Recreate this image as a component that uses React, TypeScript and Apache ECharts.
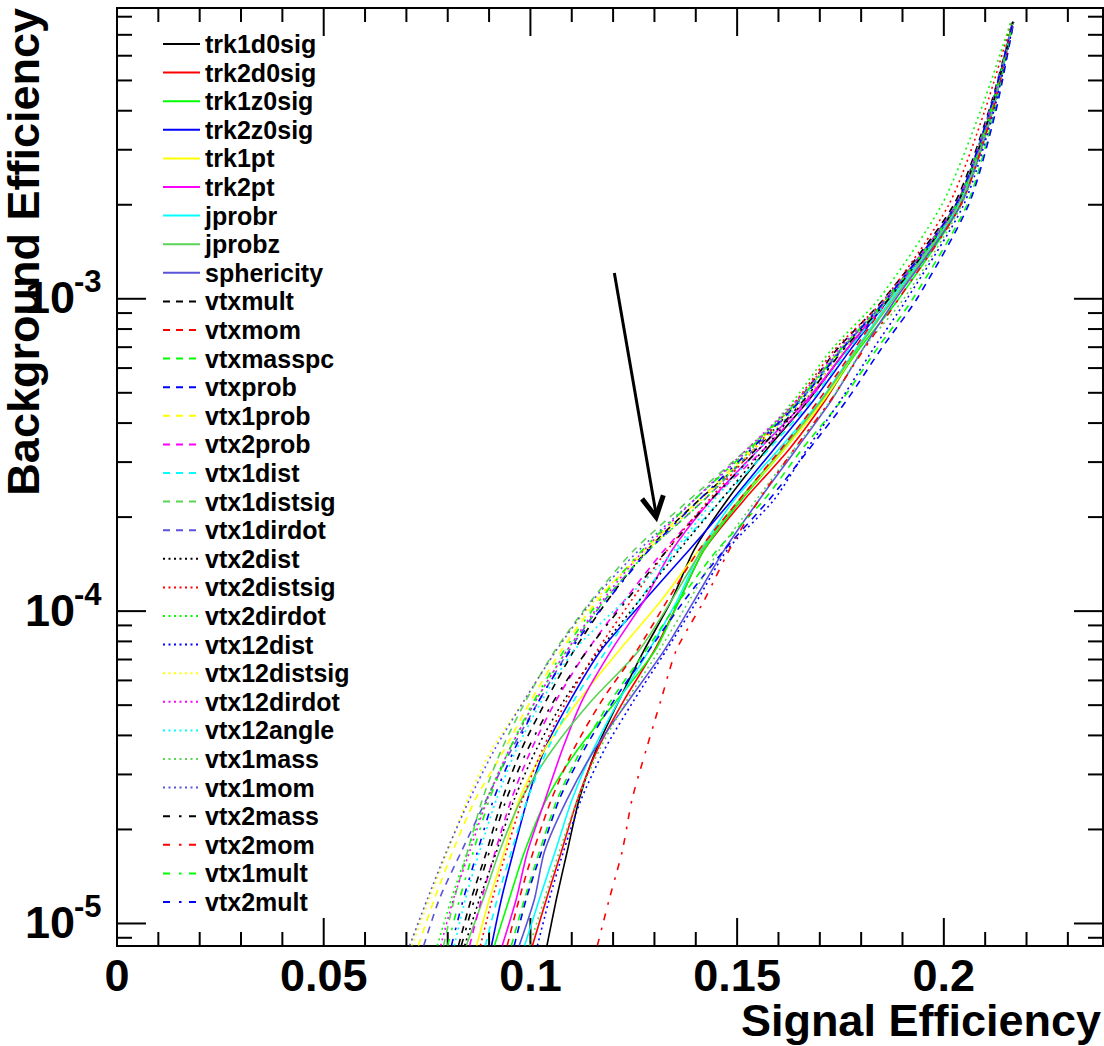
import React, { useEffect, useRef } from "react";
import * as echarts from "echarts";

// Background-efficiency levels shared by all curves (y values)
const BG_LEVELS = [8.5e-6, 1.2e-5, 1.7e-5, 2.5e-5, 3.6e-5, 5.2e-5, 7.5e-5, 1.08e-4, 1.57e-4, 2.27e-4, 3.3e-4, 4.75e-4, 6.9e-4, 1e-3, 2e-3, 4e-3, 7.7e-3];

// Signal efficiency of each curve at the levels above
const trk1d0sig = [0.104, 0.1063, 0.1089, 0.1118, 0.1159, 0.1215, 0.1275, 0.1341, 0.1396, 0.1476, 0.1572, 0.1674, 0.1766, 0.1867, 0.2031, 0.2114, 0.2167];
const trk2d0sig = [0.1005, 0.1039, 0.1075, 0.1114, 0.1162, 0.1227, 0.13, 0.136, 0.142, 0.1517, 0.1626, 0.1714, 0.179, 0.1874, 0.2036, 0.2116, 0.2167];
const trk1z0sig = [0.0913, 0.0949, 0.0986, 0.1039, 0.1114, 0.121, 0.1302, 0.136, 0.142, 0.151, 0.1614, 0.171, 0.1795, 0.1891, 0.2041, 0.2118, 0.2167];
const trk2z0sig = [0.0906, 0.093, 0.0959, 0.0993, 0.1034, 0.1097, 0.1171, 0.1275, 0.1384, 0.1488, 0.1589, 0.1686, 0.1775, 0.1867, 0.2031, 0.2114, 0.2167];
const trk1pt = [0.087, 0.0901, 0.0937, 0.0973, 0.1034, 0.1118, 0.1215, 0.1316, 0.1408, 0.1505, 0.1614, 0.171, 0.179, 0.1874, 0.2036, 0.2116, 0.2167];
const trk2pt = [0.0932, 0.0966, 0.0993, 0.1036, 0.1077, 0.1126, 0.1196, 0.1275, 0.1343, 0.1437, 0.1553, 0.1669, 0.1766, 0.1862, 0.2029, 0.2114, 0.2167];
const jprobr = [0.0986, 0.1022, 0.106, 0.1101, 0.1152, 0.1215, 0.1287, 0.1355, 0.1413, 0.1493, 0.1601, 0.1703, 0.1787, 0.1874, 0.2036, 0.2116, 0.2167];
const jprobz = [0.0845, 0.0886, 0.0925, 0.0978, 0.1053, 0.115, 0.1263, 0.1341, 0.1415, 0.1505, 0.1609, 0.1705, 0.179, 0.1879, 0.2039, 0.2116, 0.2167];
const sphericity = [0.0973, 0.101, 0.1034, 0.1089, 0.1155, 0.1239, 0.1324, 0.1396, 0.1469, 0.1553, 0.1643, 0.1729, 0.1804, 0.1884, 0.2041, 0.2118, 0.2167];
const vtxmult = [0.0826, 0.0857, 0.0894, 0.0932, 0.0978, 0.1039, 0.1106, 0.1186, 0.1283, 0.1408, 0.1546, 0.165, 0.1742, 0.1855, 0.2024, 0.2109, 0.2167];
const vtxmom = [0.0944, 0.0973, 0.1007, 0.1051, 0.1104, 0.1174, 0.1258, 0.1331, 0.1408, 0.1505, 0.1606, 0.1698, 0.1783, 0.1867, 0.2031, 0.2114, 0.2167];
const vtxmasspc = [0.0954, 0.0986, 0.1022, 0.1065, 0.1123, 0.1196, 0.128, 0.136, 0.1452, 0.1565, 0.1657, 0.1754, 0.1838, 0.1925, 0.2056, 0.2123, 0.2169];
const vtxprob = [0.0961, 0.099, 0.1027, 0.107, 0.113, 0.1203, 0.1287, 0.1372, 0.1469, 0.1577, 0.1674, 0.1766, 0.1848, 0.1935, 0.206, 0.2126, 0.2169];
const vtx1prob = [0.0729, 0.0768, 0.0812, 0.0867, 0.0937, 0.1002, 0.1075, 0.1162, 0.1275, 0.1408, 0.1534, 0.165, 0.1751, 0.1862, 0.2031, 0.2114, 0.2167];
const vtx2prob = [0.0853, 0.0882, 0.0915, 0.0954, 0.1002, 0.1063, 0.1138, 0.1227, 0.1324, 0.1437, 0.1565, 0.1674, 0.1766, 0.1867, 0.2031, 0.2114, 0.2167];
const vtx1dist = [0.0891, 0.092, 0.0954, 0.0993, 0.1041, 0.1106, 0.1184, 0.1263, 0.1355, 0.1461, 0.1577, 0.1681, 0.1771, 0.1867, 0.2031, 0.2114, 0.2167];
const vtx1distsig = [0.079, 0.0816, 0.0848, 0.0884, 0.093, 0.099, 0.106, 0.1147, 0.1251, 0.1384, 0.1524, 0.165, 0.1751, 0.1867, 0.2036, 0.2116, 0.2167];
const vtx1dirdot = [0.0742, 0.078, 0.0833, 0.0894, 0.0954, 0.1022, 0.1094, 0.1179, 0.1287, 0.142, 0.1541, 0.1655, 0.1754, 0.1862, 0.2031, 0.2114, 0.2167];
const vtx2dist = [0.0841, 0.0877, 0.0918, 0.0961, 0.1014, 0.1082, 0.1167, 0.1263, 0.136, 0.1461, 0.1565, 0.1664, 0.1758, 0.1862, 0.2029, 0.2111, 0.2167];
const vtx2distsig = [0.0879, 0.0908, 0.0942, 0.0981, 0.1029, 0.1089, 0.1162, 0.1244, 0.1331, 0.1432, 0.1541, 0.1645, 0.1737, 0.1857, 0.2012, 0.2099, 0.2164];
const vtx2dirdot = [0.0775, 0.0809, 0.0848, 0.0894, 0.0949, 0.1014, 0.1089, 0.1179, 0.1287, 0.142, 0.1534, 0.1638, 0.1729, 0.1843, 0.1995, 0.2089, 0.2162];
const vtx12dist = [0.1017, 0.1046, 0.108, 0.1123, 0.1179, 0.1251, 0.1329, 0.1403, 0.1476, 0.1589, 0.1669, 0.1751, 0.1829, 0.1911, 0.2048, 0.2121, 0.2169];
const vtx12distsig = [0.0713, 0.0756, 0.08, 0.0848, 0.0906, 0.0986, 0.1063, 0.1155, 0.1283, 0.1415, 0.1541, 0.1662, 0.1758, 0.1862, 0.2029, 0.2111, 0.2167];
const vtx12dirdot = [0.0783, 0.0814, 0.0853, 0.0896, 0.0949, 0.1014, 0.1089, 0.1174, 0.1275, 0.1396, 0.1524, 0.1645, 0.1746, 0.186, 0.2029, 0.2111, 0.2167];
const vtx12angle = [0.0816, 0.0843, 0.0877, 0.0918, 0.0966, 0.1029, 0.1106, 0.1227, 0.1348, 0.1444, 0.1553, 0.1657, 0.1754, 0.1862, 0.2029, 0.2111, 0.2167];
const vtx1mass = [0.0998, 0.1034, 0.107, 0.1114, 0.1167, 0.1234, 0.1312, 0.1384, 0.1457, 0.1546, 0.1638, 0.1727, 0.1804, 0.1903, 0.2043, 0.2118, 0.2167];
const vtx1mom = [0.0708, 0.0751, 0.0797, 0.0853, 0.0913, 0.0986, 0.1063, 0.115, 0.1263, 0.1396, 0.1529, 0.165, 0.1751, 0.186, 0.2029, 0.2111, 0.2167];
const vtx2mass = [0.0833, 0.0865, 0.0901, 0.0942, 0.0993, 0.1058, 0.1138, 0.1232, 0.1331, 0.1437, 0.1553, 0.1662, 0.1758, 0.1867, 0.2031, 0.2114, 0.2167];
const vtx2mom = [0.1162, 0.1191, 0.1222, 0.1246, 0.128, 0.1316, 0.1353, 0.142, 0.1481, 0.1553, 0.1638, 0.1727, 0.1807, 0.1891, 0.2041, 0.2118, 0.2167];
const vtx1mult = [0.08, 0.0829, 0.0862, 0.0901, 0.0949, 0.101, 0.1082, 0.1167, 0.1271, 0.1396, 0.1529, 0.165, 0.1751, 0.1862, 0.2031, 0.2114, 0.2167];
const vtx2mult = [0.0809, 0.0838, 0.0872, 0.0911, 0.0961, 0.1022, 0.1097, 0.1186, 0.1287, 0.1408, 0.1534, 0.1655, 0.1754, 0.1862, 0.2029, 0.2111, 0.2167];

// ROOT colour indices 1..9
const ROOT_COLORS = ["#000000", "#ff0000", "#00ff00", "#0000ff", "#ffff00", "#ff00ff", "#00ffff", "#59d454", "#5954d9"];

const CURVES = [
  { name: "trk1d0sig", c: 0, s: "solid", v: trk1d0sig },
  { name: "trk2d0sig", c: 1, s: "solid", v: trk2d0sig },
  { name: "trk1z0sig", c: 2, s: "solid", v: trk1z0sig },
  { name: "trk2z0sig", c: 3, s: "solid", v: trk2z0sig },
  { name: "trk1pt", c: 4, s: "solid", v: trk1pt },
  { name: "trk2pt", c: 5, s: "solid", v: trk2pt },
  { name: "jprobr", c: 6, s: "solid", v: jprobr },
  { name: "jprobz", c: 7, s: "solid", v: jprobz },
  { name: "sphericity", c: 8, s: "solid", v: sphericity },
  { name: "vtxmult", c: 0, s: "dashed", v: vtxmult },
  { name: "vtxmom", c: 1, s: "dashed", v: vtxmom },
  { name: "vtxmasspc", c: 2, s: "dashed", v: vtxmasspc },
  { name: "vtxprob", c: 3, s: "dashed", v: vtxprob },
  { name: "vtx1prob", c: 4, s: "dashed", v: vtx1prob },
  { name: "vtx2prob", c: 5, s: "dashed", v: vtx2prob },
  { name: "vtx1dist", c: 6, s: "dashed", v: vtx1dist },
  { name: "vtx1distsig", c: 7, s: "dashed", v: vtx1distsig },
  { name: "vtx1dirdot", c: 8, s: "dashed", v: vtx1dirdot },
  { name: "vtx2dist", c: 0, s: "dotted", v: vtx2dist },
  { name: "vtx2distsig", c: 1, s: "dotted", v: vtx2distsig },
  { name: "vtx2dirdot", c: 2, s: "dotted", v: vtx2dirdot },
  { name: "vtx12dist", c: 3, s: "dotted", v: vtx12dist },
  { name: "vtx12distsig", c: 4, s: "dotted", v: vtx12distsig },
  { name: "vtx12dirdot", c: 5, s: "dotted", v: vtx12dirdot },
  { name: "vtx12angle", c: 6, s: "dotted", v: vtx12angle },
  { name: "vtx1mass", c: 7, s: "dotted", v: vtx1mass },
  { name: "vtx1mom", c: 8, s: "dotted", v: vtx1mom },
  { name: "vtx2mass", c: 0, s: "dashdot", v: vtx2mass },
  { name: "vtx2mom", c: 1, s: "dashdot", v: vtx2mom },
  { name: "vtx1mult", c: 2, s: "dashdot", v: vtx1mult },
  { name: "vtx2mult", c: 3, s: "dashdot", v: vtx2mult },
];

// Axes
const X_MIN = 0;
const X_MAX = 0.2385;
const Y_MIN = 8.47e-6;
const Y_MAX = 8.53e-3;
const X_MAJOR = [0, 0.05, 0.1, 0.15, 0.2];
const X_LABELS = ["0", "0.05", "0.1", "0.15", "0.2"];
const X_MINOR = [0.01, 0.02, 0.03, 0.04, 0.06, 0.07, 0.08, 0.09, 0.11, 0.12, 0.13, 0.14, 0.16, 0.17, 0.18, 0.19, 0.21, 0.22, 0.23];
const Y_MAJOR = [1e-5, 1e-4, 1e-3];
const Y_EXPONENTS = ["-5", "-4", "-3"];
const Y_MINOR = [9e-6, 2e-5, 3e-5, 4e-5, 5e-5, 6e-5, 7e-5, 8e-5, 9e-5, 2e-4, 3e-4, 4e-4, 5e-4, 6e-4, 7e-4, 8e-4, 9e-4, 2e-3, 3e-3, 4e-3, 5e-3, 6e-3, 7e-3, 8e-3];

// Arrow annotation (data units)
const ARROW_FROM = [0.1203, 1.21e-3];
const ARROW_TO = [0.1304, 2.0e-4];

const DASHES: Record<string, any> = {
  solid: "solid",
  dashed: [7, 6],
  dotted: [2, 3.5],
  dashdot: [7, 9, 2.5, 7.5],
};

const FONT = "'Liberation Sans', Arial, Helvetica, sans-serif";

export default function App() {
  const ref = useRef<HTMLDivElement>(null);
  useEffect(() => {
    const el = ref.current!;
    const chart = echarts.init(el, null, { renderer: "svg" });
    const series = CURVES.map((cv) => ({
      name: cv.name,
      type: "line",
      data: cv.v.map((s, i) => [s, BG_LEVELS[i]]),
      symbol: "none",
      smooth: 0.25,
      lineStyle: { color: ROOT_COLORS[cv.c], width: 1.6, type: DASHES[cv.s] },
      itemStyle: { color: ROOT_COLORS[cv.c] },
      emphasis: { disabled: true },
      silent: true,
    }));
    chart.setOption({
      animation: false,
      backgroundColor: "#ffffff",
      grid: {
        left: 117,
        right: 1,
        top: 8,
        bottom: 100,
        show: true,
        borderColor: "#000",
        borderWidth: 2,
        backgroundColor: "transparent",
      },
      xAxis: {
        type: "value",
        min: X_MIN,
        max: X_MAX,
        axisLine: { show: false },
        axisTick: { show: false },
        axisLabel: { show: false },
        splitLine: { show: false },
      },
      yAxis: {
        type: "log",
        logBase: 10,
        min: Y_MIN,
        max: Y_MAX,
        axisLine: { show: false },
        axisTick: { show: false },
        axisLabel: { show: false },
        splitLine: { show: false },
      },
      legend: {
        data: CURVES.map((c) => c.name),
        orient: "vertical",
        left: 157,
        top: 26.5,
        itemWidth: 37,
        itemHeight: 14,
        itemGap: 3.6,
        selectedMode: false,
        itemStyle: { opacity: 0, borderWidth: 0 },
        textStyle: { fontFamily: FONT, fontWeight: "bold", fontSize: 25, lineHeight: 25, color: "#000" },
      },
      series,
    });

    const toPx = (x: number, y: number) => chart.convertToPixel({ gridIndex: 0 }, [x, y]) as number[];
    const left = toPx(X_MIN, Y_MIN)[0];
    const right = toPx(X_MAX, Y_MIN)[0];
    const bottom = toPx(X_MIN, Y_MIN)[1];
    const top = toPx(X_MIN, Y_MAX)[1];
    const els: any[] = [];
    const tickStyle = { stroke: "#000", lineWidth: 2 };
    const addX = (v: number, len: number) => {
      const px = toPx(v, Y_MIN)[0];
      els.push({ type: "line", shape: { x1: px, y1: bottom, x2: px, y2: bottom - len }, style: tickStyle });
      els.push({ type: "line", shape: { x1: px, y1: top, x2: px, y2: top + len }, style: tickStyle });
    };
    const addY = (v: number, len: number) => {
      const py = toPx(X_MIN, v)[1];
      els.push({ type: "line", shape: { x1: left, y1: py, x2: left + len, y2: py }, style: tickStyle });
      els.push({ type: "line", shape: { x1: right, y1: py, x2: right - len, y2: py }, style: tickStyle });
    };
    X_MAJOR.forEach((v) => addX(v, 28));
    X_MINOR.forEach((v) => addX(v, 14));
    Y_MAJOR.forEach((v) => addY(v, 29));
    Y_MINOR.forEach((v) => addY(v, 15));

    X_MAJOR.forEach((v, i) => {
      const px = toPx(v, Y_MIN)[0];
      els.push({
        type: "text",
        x: px,
        y: bottom + 29,
        style: { text: X_LABELS[i], font: `bold 45px ${FONT}`, align: "center", verticalAlign: "middle", fill: "#000" },
      });
    });
    Y_MAJOR.forEach((v, i) => {
      const py = toPx(X_MIN, v)[1];
      els.push({
        type: "text",
        x: 75,
        y: py - 1,
        style: { text: "10", font: `bold 45px ${FONT}`, align: "right", verticalAlign: "middle", fill: "#000" },
      });
      els.push({
        type: "text",
        x: 74,
        y: py - 17,
        style: { text: Y_EXPONENTS[i], font: `bold 31px ${FONT}`, align: "left", verticalAlign: "middle", fill: "#000" },
      });
    });
    // axis titles
    els.push({
      type: "text",
      x: 1101,
      y: 1020,
      style: { text: "Signal Efficiency", font: `bold 45px ${FONT}`, align: "right", verticalAlign: "middle", fill: "#000" },
    });
    els.push({
      type: "text",
      x: 23,
      y: 8,
      rotation: Math.PI / 2,
      style: { text: "Background Efficiency", font: `bold 45px ${FONT}`, align: "right", verticalAlign: "middle", fill: "#000" },
    });

    // arrow
    const p1 = toPx(ARROW_FROM[0], ARROW_FROM[1]);
    const p2 = toPx(ARROW_TO[0], ARROW_TO[1]);
    const dx = p2[0] - p1[0];
    const dy = p2[1] - p1[1];
    const L = Math.hypot(dx, dy);
    const bx = -dx / L;
    const by = -dy / L;
    const ang = (28 * Math.PI) / 180;
    const armLen = 23;
    const rot = (a: number) => [
      p2[0] + armLen * (bx * Math.cos(a) - by * Math.sin(a)),
      p2[1] + armLen * (bx * Math.sin(a) + by * Math.cos(a)),
    ];
    els.push({ type: "line", shape: { x1: p1[0], y1: p1[1], x2: p2[0], y2: p2[1] - 3 }, style: { stroke: "#000", lineWidth: 3 } });
    els.push({
      type: "polyline",
      shape: { points: [rot(ang), [p2[0], p2[1]], rot(-ang)] },
      style: { stroke: "#000", lineWidth: 5, fill: null, lineJoin: "miter" },
    });

    chart.setOption({ graphic: els });
    return () => chart.dispose();
  }, []);
  return (
    <div
      ref={ref}
      style={{ position: "fixed", left: 0, top: 0, width: 1104, height: 1046, background: "#fff" }}
    />
  );
}
